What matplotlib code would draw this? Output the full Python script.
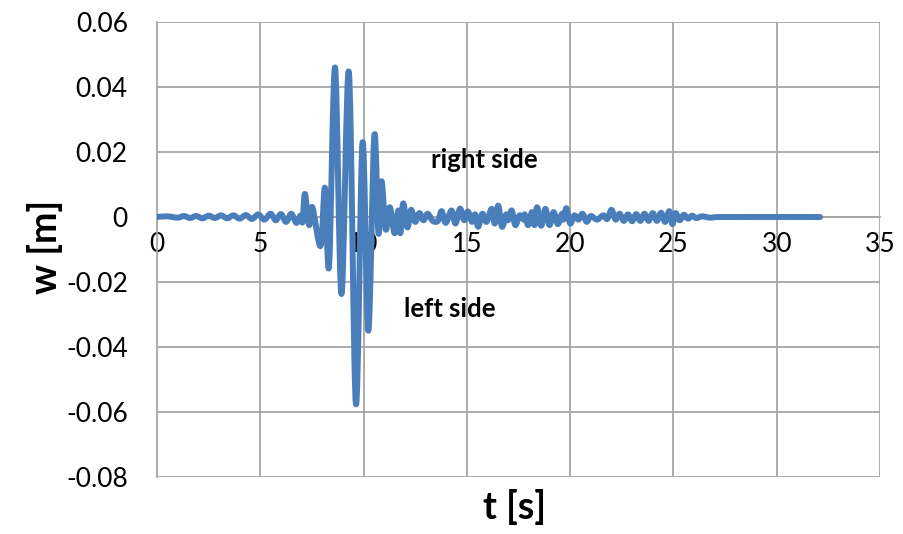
import matplotlib
matplotlib.use("Agg")
import matplotlib.pyplot as plt
from matplotlib.path import Path
from matplotlib.patches import PathPatch

t = [0.0, 0.5, 1.0, 1.3, 1.6, 1.9, 2.2, 2.5, 2.8, 3.1, 3.4, 3.7, 4.0, 4.3, 4.6, 4.9,
     5.2, 5.5, 5.75, 6.0, 6.25, 6.5, 6.75, 6.95, 7.05, 7.16, 7.36, 7.52, 7.92, 8.13,
     8.33, 8.62, 8.93, 9.29, 9.63, 9.95, 10.23, 10.52, 10.72, 10.87, 11.07, 11.27,
     11.5, 11.68, 11.78, 11.92, 12.12, 12.3, 12.5, 12.7, 12.9, 13.1, 13.35, 13.6,
     13.78, 13.98, 14.26, 14.45, 14.67, 14.87, 15.05, 15.25, 15.4, 15.55, 15.75,
     15.95, 16.2, 16.35, 16.52, 16.7, 16.9, 17.0, 17.17, 17.35, 17.55, 17.75, 17.8,
     17.97, 18.15, 18.28, 18.4, 18.6, 18.8, 19.0, 19.2, 19.4, 19.6, 19.68, 19.82,
     20.0, 20.2, 20.4, 20.6, 20.8, 21.0, 21.3, 21.6, 21.8, 22.0, 22.2, 22.4, 22.6,
     22.8, 23.0, 23.2, 23.4, 23.6, 23.8, 24.0, 24.2, 24.4, 24.6, 24.8, 24.95, 25.1,
     25.3, 25.5, 25.7, 25.9, 26.1, 26.4, 26.8, 27.5, 32.1]
w = [0.0, 0.0002, -0.0002, 0.0003, -0.0003, 0.0003, -0.0004, 0.0004, -0.0003, 0.0005,
     -0.0004, 0.0005, -0.0005, 0.0006, -0.0006, 0.0008, -0.0008, 0.0010, -0.0010,
     0.0009, -0.0015, 0.0010, -0.0018, 0.0005, -0.0015, 0.0071, -0.0025, 0.0030,
     -0.0089, 0.0090, -0.0150, 0.0460, -0.0237, 0.0445, -0.0575, 0.0229, -0.0350,
     0.0250, -0.0050, 0.0110, -0.0038, 0.0030, -0.0050, 0.0020, -0.0050, 0.0042,
     -0.0032, 0.0022, -0.0015, 0.0012, -0.0010, 0.0010, -0.0012, -0.0012, 0.0018,
     -0.0018, 0.0020, -0.0020, 0.0026, -0.0010, 0.0017, -0.0015, 0.0008, -0.0030,
     0.0010, -0.0015, 0.0025, -0.0020, 0.0035, -0.0030, 0.0008, -0.0010, 0.0020,
     -0.0025, 0.0005, -0.0008, 0.0008, -0.0025, 0.0015, -0.0025, 0.0030, -0.0027,
     0.0025, -0.0025, 0.0015, -0.0022, 0.0010, -0.0008, 0.0027, -0.0020, 0.0005,
     -0.0008, 0.0010, -0.0015, 0.0003, -0.0008, 0.0005, -0.0006, 0.0022, -0.0008,
     0.0010, -0.0012, 0.0008, -0.0013, 0.0009, -0.0012, 0.0010, -0.0012, 0.0012,
     -0.0012, 0.0013, -0.0015, 0.0018, -0.0022, 0.0012, -0.0010, 0.0007, -0.0005,
     0.0004, -0.0003, 0.0002, -0.0002, 0.0, 0.0]

x_ticks = [0, 5, 10, 15, 20, 25, 30, 35]
y_ticks = [-0.08, -0.06, -0.04, -0.02, 0, 0.02, 0.04, 0.06]
y_tick_labels = ["-0.08", "-0.06", "-0.04", "-0.02", "0", "0.02", "0.04", "0.06"]

plt.rcParams['font.family'] = ['Lato', 'DejaVu Sans']

fig = plt.figure(figsize=(9.04, 5.34), dpi=100)
ax = fig.add_axes([157/904, 1-477/534, (880-157)/904, (477-22)/534])

grid_c = '#a6a6a6'
for xv in x_ticks[1:]:
    ax.axvline(xv, color=grid_c, lw=1.3, zorder=1)
for yv in y_ticks:
    ax.axhline(yv, color=grid_c, lw=1.3, zorder=1)

# Smoothed line rendering (Excel-style Bezier smoothing through the data points)
def smooth_path(xs, ys, k=1/6):
    verts = [(xs[0], ys[0])]
    codes = [Path.MOVETO]
    n = len(xs)
    for i in range(n - 1):
        x0, y0 = (xs[i - 1], ys[i - 1]) if i > 0 else (xs[i], ys[i])
        x1, y1 = xs[i], ys[i]
        x2, y2 = xs[i + 1], ys[i + 1]
        x3, y3 = (xs[i + 2], ys[i + 2]) if i + 2 < n else (x2, y2)
        c1 = (x1 + (x2 - x0) * k, y1 + (y2 - y0) * k)
        c2 = (x2 - (x3 - x1) * k, y2 - (y3 - y1) * k)
        verts += [c1, c2, (x2, y2)]
        codes += [Path.CURVE4] * 3
    return Path(verts, codes)

ax.add_patch(PathPatch(smooth_path(t, w), facecolor='none', edgecolor='#4a7ebb',
                       lw=4.3, joinstyle='round', capstyle='round', zorder=3))

ax.set_xlim(0, 35)
ax.set_ylim(-0.08, 0.06)
for s in ['top', 'right']:
    ax.spines[s].set_visible(False)
ax.spines['bottom'].set_position(('data', 0))
ax.spines['bottom'].set_color(grid_c)
ax.spines['bottom'].set_linewidth(1.3)
ax.spines['left'].set_color(grid_c)
ax.spines['left'].set_linewidth(1.3)

ax.set_xticks(x_ticks)
ax.set_xticklabels([str(v) for v in x_ticks])
ax.set_yticks(y_ticks)
ax.set_yticklabels(y_tick_labels)
ax.tick_params(axis='x', length=0, pad=11, labelsize=19)
ax.tick_params(axis='y', length=0, pad=21, labelsize=19)

fig.text(515/904, 1-507/534, 't [s]', fontsize=27, fontweight='bold', ha='center', va='center')
fig.text(45/904, 1-247/534, 'w [m]', fontsize=27, fontweight='bold', ha='center', va='center', rotation=90)

ax.text(484/904, 1-160/534, 'right side', transform=fig.transFigure, fontsize=18.5, fontweight='bold', ha='center', va='center')
ax.text(450/904, 1-309/534, 'left side', transform=fig.transFigure, fontsize=18.5, fontweight='bold', ha='center', va='center')

fig.savefig('out.png', dpi=100)
